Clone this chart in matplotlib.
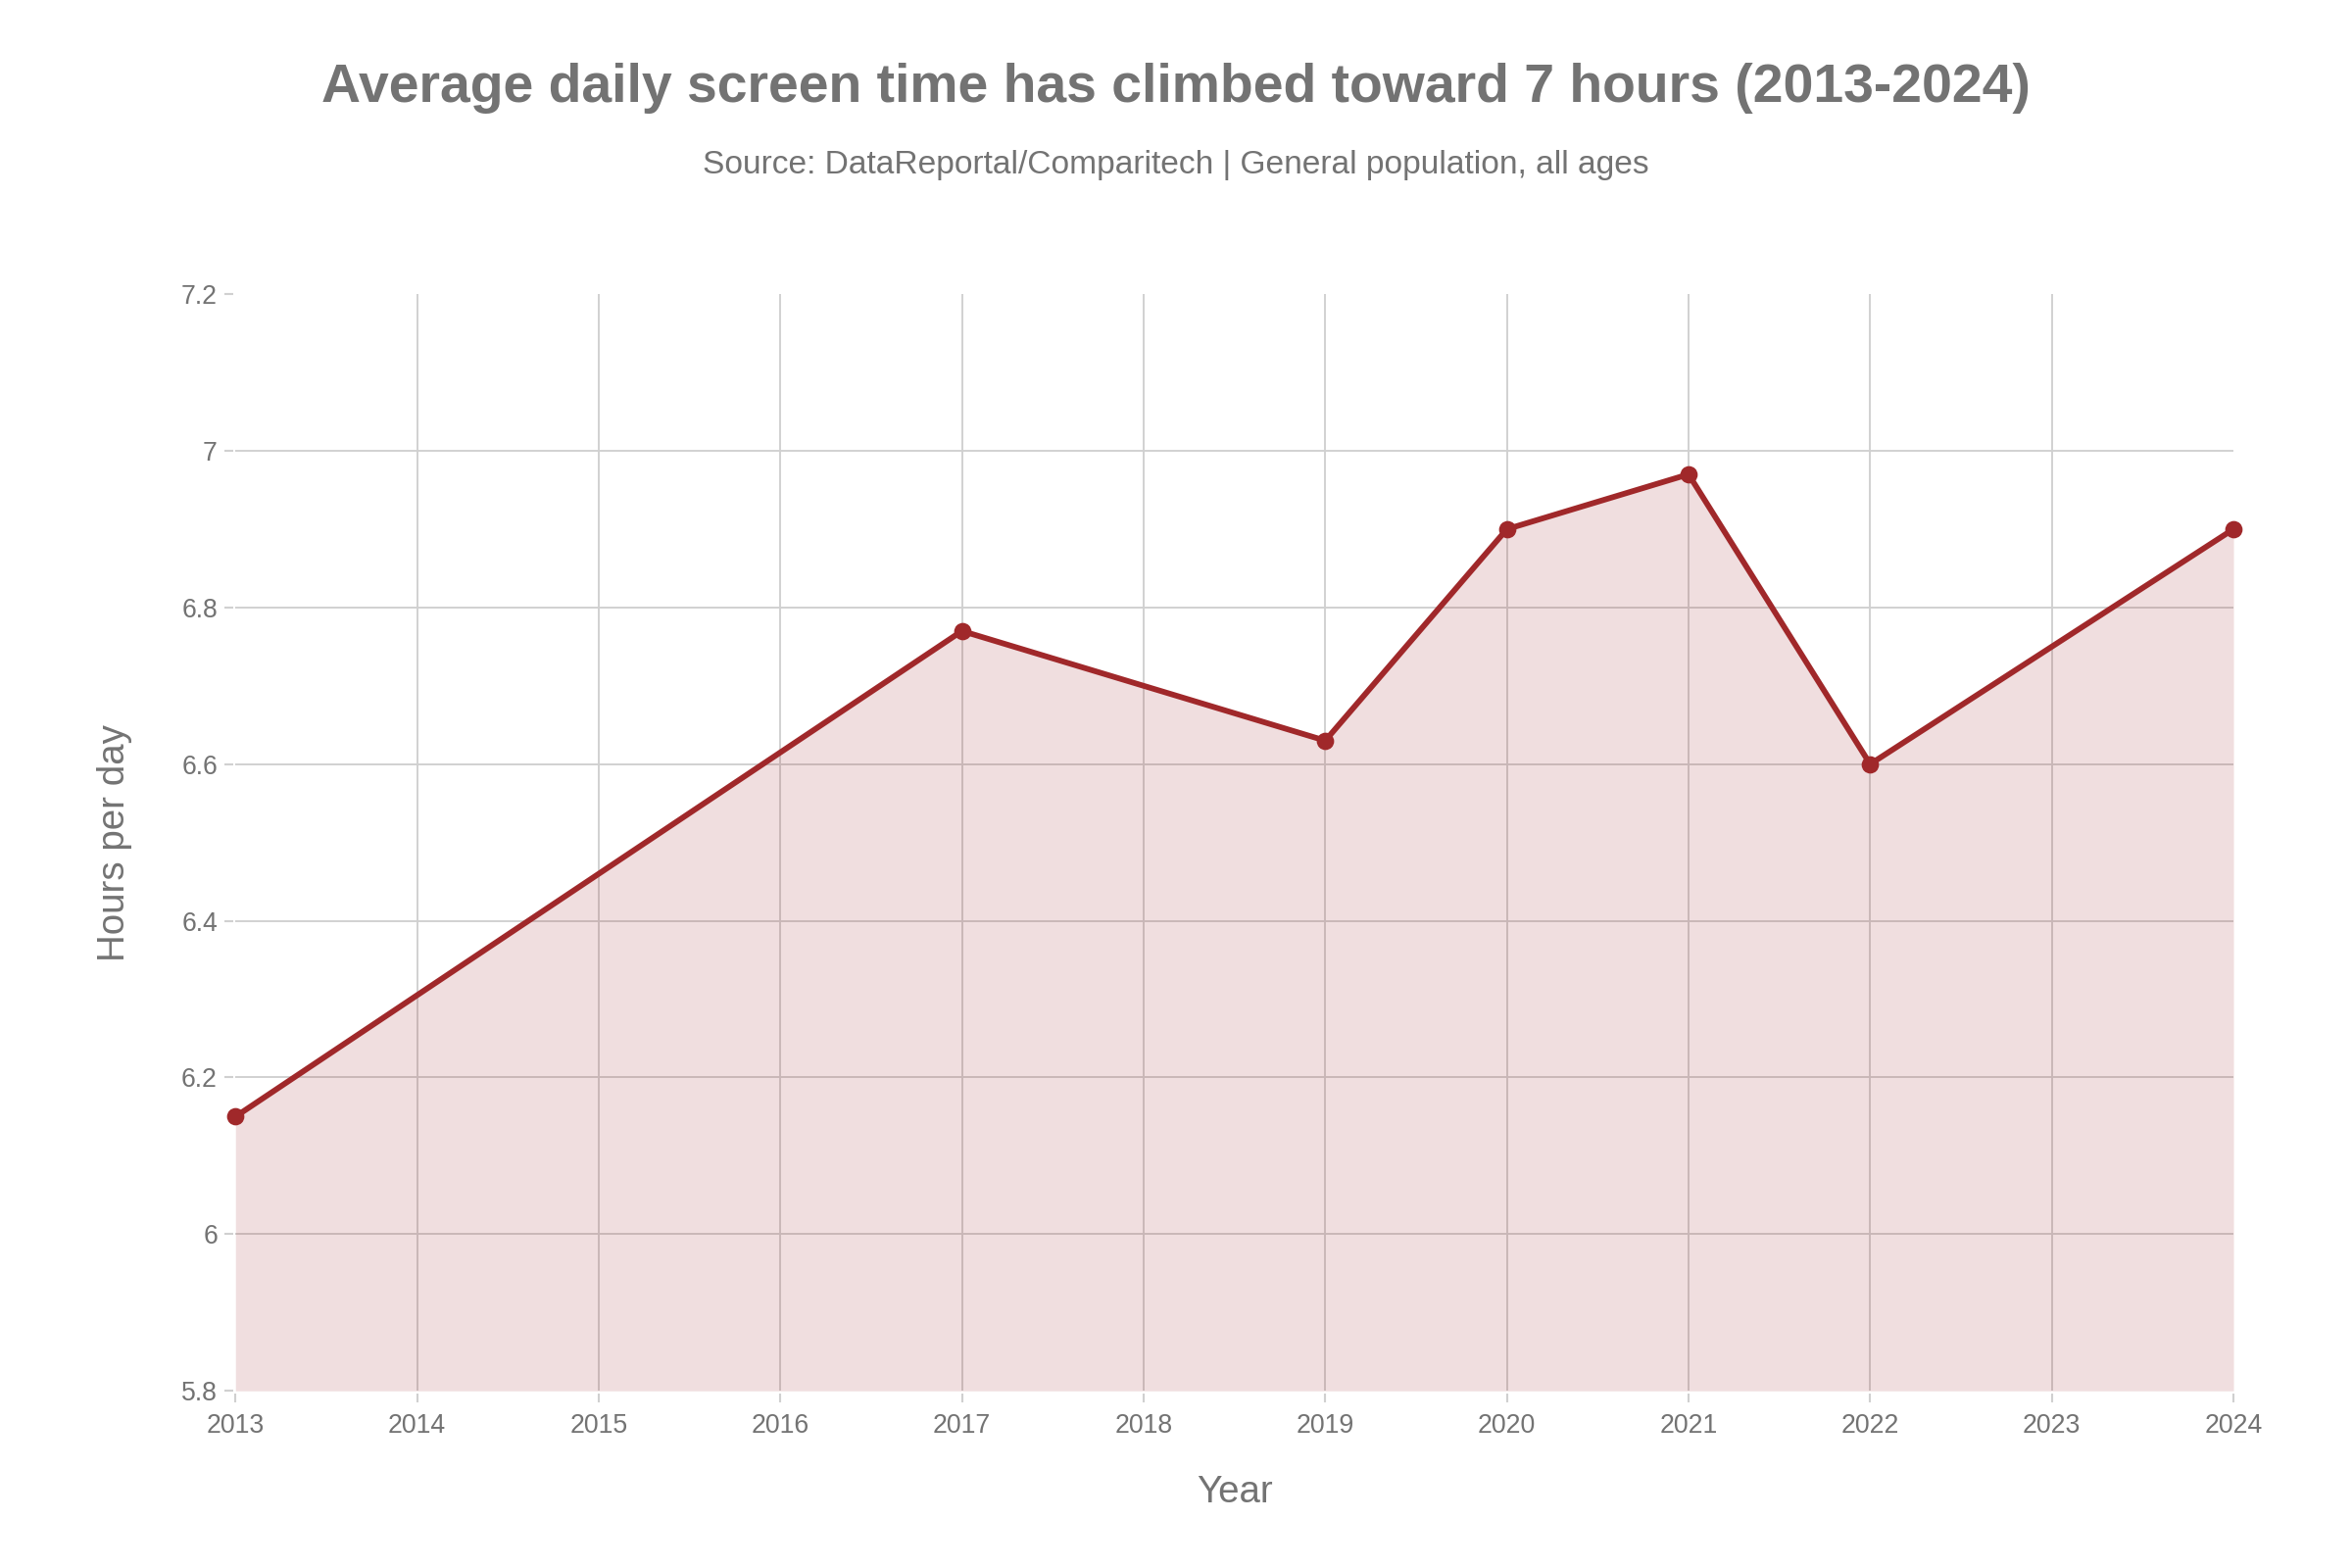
import matplotlib
matplotlib.use('Agg')
import matplotlib.pyplot as plt

# Data
years = [2013, 2017, 2019, 2020, 2021, 2022, 2024]
hours = [6.15, 6.77, 6.63, 6.90, 6.97, 6.60, 6.90]
x_ticks = list(range(2013, 2025))
y_ticks = [5.8, 6.0, 6.2, 6.4, 6.6, 6.8, 7.0, 7.2]
y_tick_labels = ['5.8', '6', '6.2', '6.4', '6.6', '6.8', '7', '7.2']

LINE = '#a0282a'
TEXT = '#737373'
GRID = '#d0d0d0'

plt.rcParams['font.family'] = ['Liberation Sans', 'DejaVu Sans']

fig = plt.figure(figsize=(16, 10.6667), dpi=150)
ax = fig.add_axes([0.1001, 0.113, 0.8495, 0.6994])

ax.fill_between(years, hours, 5.8, color=LINE, alpha=0.15, linewidth=0, zorder=2)
ax.plot(years, hours, color=LINE, linewidth=2.8, marker='o', markersize=7.5,
        zorder=3, clip_on=False)

ax.set_xlim(2013, 2024)
ax.set_ylim(5.8, 7.2)
ax.set_xticks(x_ticks)
ax.set_xticklabels([str(y) for y in x_ticks])
ax.set_yticks(y_ticks)
ax.set_yticklabels(y_tick_labels)

# plotly-style grid: interior lines only, none on the frame edges
for xv in x_ticks[1:-1]:
    ax.axvline(xv, color=GRID, linewidth=0.9, zorder=1)
for yv in y_ticks[1:-1]:
    ax.axhline(yv, color=GRID, linewidth=0.9, zorder=1)

for s in ax.spines.values():
    s.set_visible(False)
ax.spines['left'].set_position(('outward', 1.3))
ax.spines['bottom'].set_position(('outward', 1.3))

ax.tick_params(axis='both', colors=GRID, labelcolor=TEXT, labelsize=12.8, length=4.5, width=1)
ax.tick_params(axis='y', pad=3)
ax.tick_params(axis='x', pad=5)

ax.set_xlabel('Year', fontsize=18.5, color=TEXT, labelpad=18)
ax.set_ylabel('Hours per day', fontsize=18.5, color=TEXT, labelpad=24)

fig.text(0.5, 0.944, 'Average daily screen time has climbed toward 7 hours (2013-2024)',
         ha='center', va='center', fontsize=26.6, fontweight='bold', color=TEXT)
fig.text(0.5, 0.895, 'Source: DataReportal/Comparitech | General population, all ages',
         ha='center', va='center', fontsize=16.1, color=TEXT)

fig.savefig('out.png', dpi=150, facecolor='white')
